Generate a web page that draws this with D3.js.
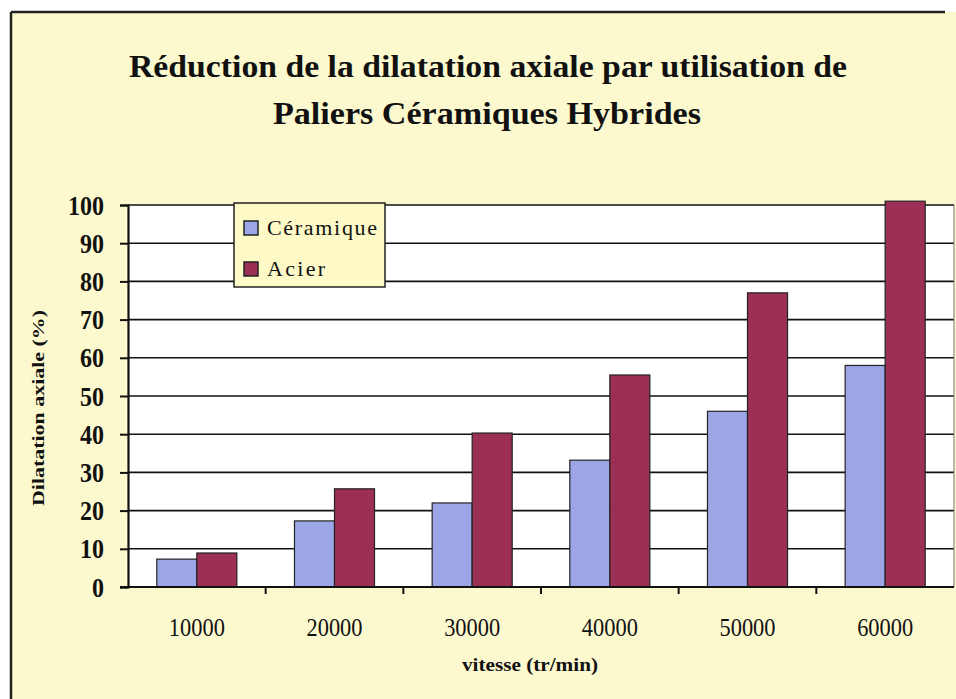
<!DOCTYPE html>
<html>
<head>
<meta charset="utf-8">
<script src="https://cdn.jsdelivr.net/npm/d3@7"></script>
<style>
body { margin: 0; background: #fff; }
text { font-family: "Liberation Serif", "Times New Roman", serif; fill: #111; }
</style>
</head>
<body>
<div id="chart"></div>
<script>
// data
var categories = ["10000", "20000", "30000", "40000", "50000", "60000"];
var seriesNames = ["Céramique", "Acier"];
var ceramique = [7.3, 17.3, 22, 33.2, 46, 58];
var acier = [8.9, 25.7, 40.3, 55.5, 77, 101];
var yTicks = [0, 10, 20, 30, 40, 50, 60, 70, 80, 90, 100];
var colors = ["#9ca6e6", "#9b2f55"];

var W = 956, H = 699;
var plot = {left: 128, right: 954, top: 205, bottom: 587};

var svg = d3.select("#chart").append("svg")
  .attr("width", W).attr("height", H);

// chart area (cream background with frame)
svg.append("rect")
  .attr("x", 11).attr("y", 12).attr("width", W - 11).attr("height", H - 12)
  .attr("fill", "#fdf9cf");
svg.append("line").attr("x1", 11).attr("x2", 11).attr("y1", 12).attr("y2", H)
  .attr("stroke", "#222").attr("stroke-width", 2.5);
svg.append("line").attr("x1", 11).attr("x2", 945).attr("y1", 12).attr("y2", 12)
  .attr("stroke", "#222").attr("stroke-width", 2.5);

// title
var title = svg.append("g");
title.append("text").text("Réduction de la dilatation axiale par utilisation de")
  .attr("x", 488).attr("y", 77).attr("text-anchor", "middle")
  .attr("font-size", 32).attr("font-weight", "bold")
  .attr("textLength", 718).attr("lengthAdjust", "spacingAndGlyphs");
title.append("text").text("Paliers Céramiques Hybrides")
  .attr("x", 487).attr("y", 124).attr("text-anchor", "middle")
  .attr("font-size", 32).attr("font-weight", "bold")
  .attr("textLength", 428).attr("lengthAdjust", "spacingAndGlyphs");

// scales
var x = d3.scaleBand().domain(categories).range([plot.left, plot.right]).padding(0);
var xs = d3.scaleBand().domain(seriesNames).range([0, x.bandwidth()])
  .paddingInner(0).paddingOuter(0.72);
var y = d3.scaleLinear().domain([0, 100]).range([plot.bottom, plot.top]);

// plot area
svg.append("rect")
  .attr("x", plot.left).attr("y", plot.top)
  .attr("width", plot.right - plot.left).attr("height", plot.bottom - plot.top)
  .attr("fill", "#fff");

// gridlines
svg.append("g").selectAll("line")
  .data(yTicks.filter(function(d){ return d > 0; }))
  .enter().append("line")
  .attr("x1", plot.left).attr("x2", plot.right)
  .attr("y1", function(d){ return y(d); }).attr("y2", function(d){ return y(d); })
  .attr("stroke", "#111").attr("stroke-width", 1.6);
svg.append("line")
  .attr("x1", plot.right).attr("x2", plot.right)
  .attr("y1", plot.top).attr("y2", plot.bottom)
  .attr("stroke", "#777").attr("stroke-width", 1);

// bars
var rows = categories.map(function(c, i){
  return {cat: c, values: [ceramique[i], acier[i]]};
});
svg.append("g").selectAll("g")
  .data(rows).enter().append("g")
  .attr("transform", function(d){ return "translate(" + x(d.cat) + ",0)"; })
  .selectAll("rect")
  .data(function(d){ return d.values.map(function(v, j){ return {s: seriesNames[j], v: v, j: j}; }); })
  .enter().append("rect")
  .attr("x", function(d){ return xs(d.s); })
  .attr("width", xs.bandwidth())
  .attr("y", function(d){ return y(d.v); })
  .attr("height", function(d){ return y(0) - y(d.v); })
  .attr("fill", function(d){ return colors[d.j]; })
  .attr("stroke", "#222").attr("stroke-width", 1.2);

// y axis
var yAxis = svg.append("g")
  .attr("transform", "translate(" + plot.left + ",0)")
  .call(d3.axisLeft(y).tickValues(yTicks).tickSize(8).tickPadding(16));
yAxis.select(".domain").attr("stroke", "#111").attr("stroke-width", 2.2);
yAxis.selectAll(".tick line").attr("stroke", "#111").attr("stroke-width", 2);
yAxis.selectAll(".tick text")
  .attr("font-family", "Liberation Serif").attr("font-size", 27)
  .attr("font-weight", "bold").attr("fill", "#111")
  .attr("dy", "0.34em")
  .attr("textLength", function(d){ return String(d).length * 12; })
  .attr("lengthAdjust", "spacingAndGlyphs");

// x axis line and boundary ticks
svg.append("line")
  .attr("x1", plot.left - 8).attr("x2", plot.right)
  .attr("y1", y(0)).attr("y2", y(0))
  .attr("stroke", "#111").attr("stroke-width", 2.2);
svg.append("g").selectAll("line")
  .data(categories.slice(1)).enter().append("line")
  .attr("x1", function(d){ return x(d); }).attr("x2", function(d){ return x(d); })
  .attr("y1", y(0)).attr("y2", y(0) + 7)
  .attr("stroke", "#111").attr("stroke-width", 2);
svg.append("g").selectAll("text")
  .data(categories).enter().append("text")
  .text(function(d){ return d; })
  .attr("x", function(d){ return x(d) + x.bandwidth() / 2; })
  .attr("y", 636).attr("text-anchor", "middle")
  .attr("font-size", 26)
  .attr("textLength", 56).attr("lengthAdjust", "spacingAndGlyphs");

// axis titles
svg.append("text").text("vitesse (tr/min)")
  .attr("x", 530).attr("y", 671).attr("text-anchor", "middle")
  .attr("font-size", 18).attr("font-weight", "bold")
  .attr("textLength", 136).attr("lengthAdjust", "spacingAndGlyphs");
svg.append("g")
  .attr("transform", "translate(44," + ((plot.top + plot.bottom) / 2 + 12) + ")")
  .append("text").text("Dilatation axiale (%)")
  .attr("transform", "rotate(-90)")
  .attr("text-anchor", "middle")
  .attr("font-size", 17).attr("font-weight", "bold")
  .attr("textLength", 196).attr("lengthAdjust", "spacingAndGlyphs");

// legend
var legend = svg.append("g").attr("transform", "translate(234,203)");
legend.append("rect")
  .attr("width", 151).attr("height", 84)
  .attr("fill", "#fdfac8").attr("stroke", "#222").attr("stroke-width", 1.5);
var item = legend.selectAll(".item")
  .data(seriesNames).enter().append("g")
  .attr("transform", function(d, i){ return "translate(10," + (18 + i * 41) + ")"; });
item.append("rect")
  .attr("width", 14).attr("height", 14)
  .attr("fill", function(d, i){ return colors[i]; })
  .attr("stroke", "#222").attr("stroke-width", 1.5);
item.append("text")
  .text(function(d){ return d; })
  .attr("x", 23).attr("y", 14)
  .attr("font-size", 22)
  .attr("textLength", function(d, i){ return i === 0 ? 110 : 58; })
  .attr("lengthAdjust", "spacing");
</script>
</body>
</html>
